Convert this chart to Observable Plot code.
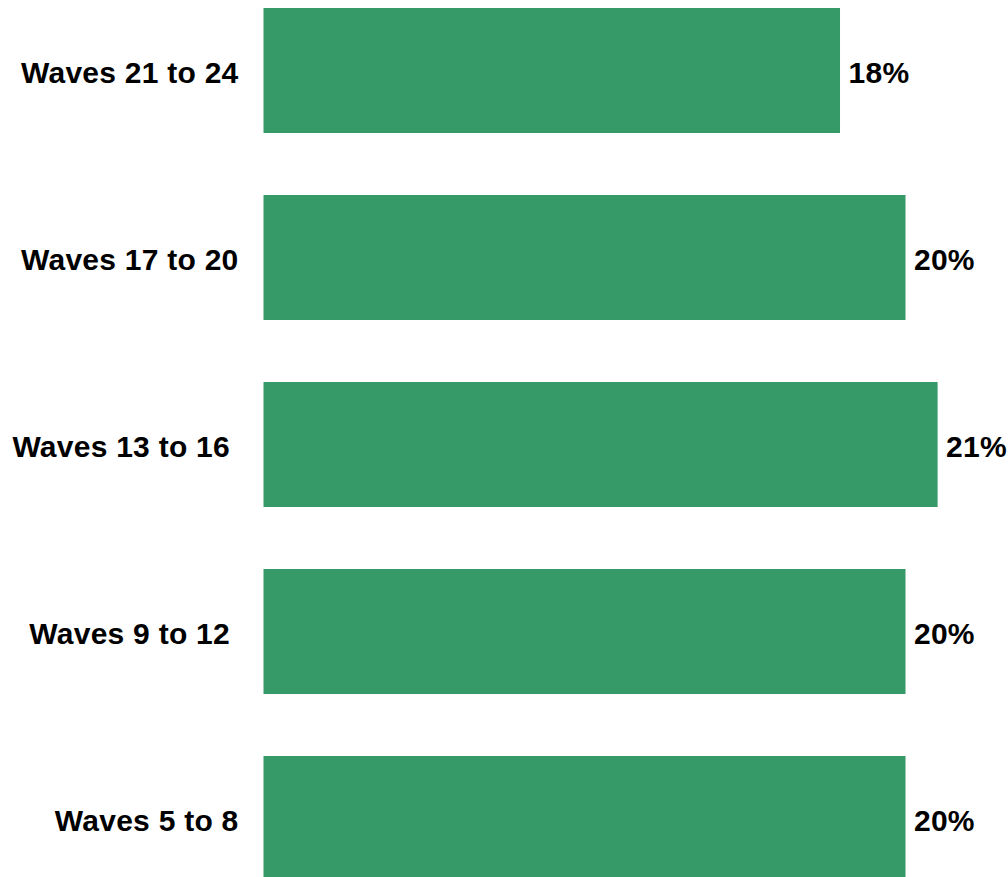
<!DOCTYPE html>
<html>
<head>
<meta charset="utf-8">
<script src="https://cdn.jsdelivr.net/npm/d3@7"></script>
<script src="https://cdn.jsdelivr.net/npm/@observablehq/plot@0.6"></script>
<style>
  html, body { margin: 0; padding: 0; background: #fff; }
  #chart svg { display: block; }
</style>
</head>
<body>
<div id="chart"></div>
<script>
const categories = ["Waves 21 to 24", "Waves 17 to 20", "Waves 13 to 16\u00a0", "Waves 9 to 12\u00a0", "Waves 5 to 8"];
const values = [17.96, 20, 21, 20, 20];
const valueLabels = ["18%", "20%", "21%", "20%", "20%"];

const data = categories.map((c, i) => ({category: c, value: values[i], label: valueLabels[i]}));

const chart = Plot.plot({
  width: 1008,
  height: 877,
  marginLeft: 263.5,
  marginRight: 6.2,
  marginTop: 8,
  marginBottom: -4,
  style: {fontFamily: "Arial, 'Liberation Sans', sans-serif", fontWeight: "bold", fontSize: "30px", letterSpacing: "0.25px", color: "#000", background: "#fff"},
  x: {domain: [0, 23], axis: null},
  y: {domain: categories, paddingInner: 0.332, paddingOuter: 0, axis: null},
  marks: [
    Plot.barX(data, {x: "value", y: "category", fill: "#359a68"}),
    Plot.text(data, {x: "value", y: "category", text: "label", textAnchor: "start", dx: 8, dy: 2.5, fontSize: 30, fontWeight: "bold", fill: "#000"}),
    Plot.axisY({tickSize: 0, tickPadding: 25.5, dy: 2.5, fontSize: 30, fontWeight: "bold", label: null})
  ]
});
document.getElementById("chart").appendChild(chart);
</script>
</body>
</html>
